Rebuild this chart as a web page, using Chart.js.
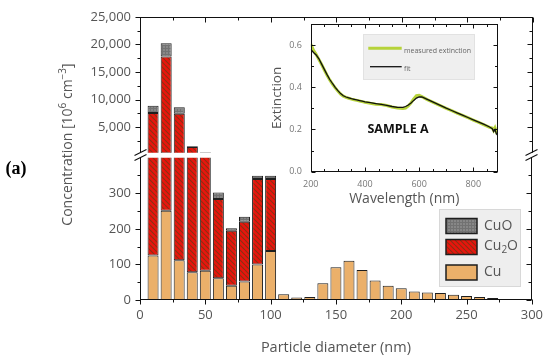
<!DOCTYPE html>
<html><head><meta charset="utf-8">
<script src="https://cdn.jsdelivr.net/npm/chart.js@4.4.1/dist/chart.umd.min.js"></script>
<style>
html,body{margin:0;padding:0;background:#fff;}
#wrap{position:relative;width:550px;height:363px;overflow:hidden;background:#fff;}
#wrap canvas{position:absolute;left:0;top:0;}
</style></head><body>
<div id="wrap">
<canvas id="upper" width="550" height="363"></canvas>
<canvas id="lower" width="550" height="363"></canvas>
<canvas id="inset" width="550" height="363"></canvas>
</div>
<script>
// ---- data ----
const diameters = [10,20,30,40,50,60,70,80,90,100,110,120,130,140,150,160,170,180,190,200,210,220,230,240,250,260,270,280,290];
const cuValues   = [125,251,112,78,82,61,40,52,100,138,16,7,8.5,47,92,110,84,55,40,33,24,21,20,15,11,8.5,5.6,3,1.5];
const cu2oValues = [7465,17549,7354,1342,360,223,155,168,240,202,0,0,0,0,0,0,0,0,0,0,0,0,0,0,0,0,0,0,0];
const cuoValues  = [1310,2400,1154,150,18,18,7,14,9,9,0,0,0,0,0,0,0,0,0,0,0,0,0,0,0,0,0,0,0];
const yTicksUpper = [5000,10000,15000,20000,25000];
const yTicksLower = [0,100,200,300];
const xTicks = [0,50,100,150,200,250,300];

const wavelength = [200,210,220,230,240,250,260,270,280,290,300,310,320,330,340,350,360,370,380,390,400,420,440,460,480,500,520,540,550,560,570,580,590,600,610,620,630,640,660,680,700,720,740,760,780,800,820,840,860,870,875,880,885,890];
const measuredExt = [0.605,0.575,0.555,0.532,0.508,0.482,0.457,0.435,0.415,0.398,0.382,0.368,0.358,0.352,0.348,0.344,0.341,0.338,0.335,0.332,0.329,0.324,0.320,0.318,0.314,0.307,0.302,0.300,0.302,0.312,0.326,0.345,0.360,0.362,0.356,0.349,0.342,0.336,0.324,0.312,0.300,0.289,0.278,0.267,0.256,0.245,0.234,0.222,0.210,0.207,0.195,0.208,0.190,0.200];
const fitExt = [0.580,0.565,0.553,0.535,0.510,0.485,0.460,0.437,0.418,0.400,0.384,0.370,0.360,0.354,0.350,0.346,0.343,0.340,0.337,0.334,0.331,0.327,0.323,0.319,0.314,0.309,0.305,0.305,0.309,0.316,0.326,0.338,0.349,0.355,0.354,0.349,0.343,0.337,0.325,0.313,0.301,0.290,0.279,0.268,0.257,0.246,0.235,0.224,0.212,0.204,0.190,0.200,0.180,0.172];
const insetXTicks = [200,400,600,800];
const insetYTicks = [0,0.2,0.4,0.6];

// ---- styling ----
const FONT = "'Open Sans', 'DejaVu Sans', sans-serif";
Chart.defaults.font.family = FONT;
const LABEL = '#555';
const CU_COLOR = '#ebb06a';

function hatchPattern(){
  const c=document.createElement('canvas'); c.width=5; c.height=5;
  const g=c.getContext('2d');
  g.fillStyle='#e8150d'; g.fillRect(0,0,5,5);
  g.strokeStyle='#8a3014'; g.lineWidth=1.1;
  g.beginPath();
  for (const o of [-5,0,5]) { g.moveTo(o,0); g.lineTo(o+5,5); }
  g.stroke();
  return g.createPattern(c,'repeat');
}
function gridPattern(){
  const c=document.createElement('canvas'); c.width=3; c.height=3;
  const g=c.getContext('2d');
  g.fillStyle='#878787'; g.fillRect(0,0,3,3);
  g.fillStyle='#727272'; g.fillRect(0,0,3,1); g.fillRect(0,0,1,3);
  return g.createPattern(c,'repeat');
}
const HATCH = hatchPattern();
const GRID = gridPattern();

function makeDatasets(){
  const mk=(label,vals,bg)=>({
    label, data: diameters.map((d,i)=>({x:d, y: vals[i]===0 ? null : vals[i]})),
    backgroundColor:bg, borderColor:'#1e1e1e', borderWidth:1, borderSkipped:false,
    barPercentage:0.84, categoryPercentage:1, clip:0
  });
  return [mk('Cu',cuValues,CU_COLOR), mk('Cu2O',cu2oValues,HATCH), mk('CuO',cuoValues,GRID)];
}

function line(ctx,x1,y1,x2,y2){ctx.beginPath();ctx.moveTo(x1,y1);ctx.lineTo(x2,y2);ctx.stroke();}

function drawTicksY(ctx, scale, vals, majorEvery, x, dir){
  for (const v of vals){
    const y = Math.round(scale.getPixelForValue(v))+0.5;
    const len = (Math.abs(v % majorEvery) < 1e-9) ? 5 : 3;
    line(ctx, x, y, x + dir*len, y);
  }
}
function drawTicksX(ctx, scale, vals, majorEvery, y, dir){
  for (const v of vals){
    const x = Math.round(scale.getPixelForValue(v))+0.5;
    const len = (Math.abs(v % majorEvery) < 1e-9) ? 5 : 3;
    line(ctx, x, y, x, y + dir*len);
  }
}
function range(a,b,s){const r=[];for(let v=a;v<=b+1e-9;v+=s)r.push(+v.toFixed(6));return r;}

// ---- upper chart ----
const upperAxes = {
  id:'upperAxes',
  afterDraw(chart){
    const {ctx, chartArea:a, scales} = chart;
    ctx.save(); ctx.strokeStyle='#111'; ctx.lineWidth=1;
    const L=Math.round(a.left)+0.5, R=Math.round(a.right)-0.5, T=Math.round(a.top)+0.5, B=a.bottom;
    line(ctx,L,T,L,B); line(ctx,R,T,R,B); line(ctx,L-0.5,T,R+0.5,T);
    const yv = range(2500,25000,2500);
    drawTicksY(ctx, scales.y, yv, 5000, L, -1);
    drawTicksY(ctx, scales.y, yv, 5000, R, -1);
    drawTicksX(ctx, scales.x, range(0,300,25), 50, T, 1);
    ctx.restore();
  }
};
new Chart(document.getElementById('upper'), {
  type:'bar',
  data:{datasets: makeDatasets()},
  options:{
    responsive:false, animation:false, devicePixelRatio:1,
    layout:{padding:{left:80,right:17.3,top:10,bottom:210.3}},
    plugins:{legend:{display:false},tooltip:{enabled:false}},
    scales:{
      x:{type:'linear',min:0,max:300,offset:false,stacked:true,display:false},
      y:{type:'linear',min:400,max:25000,stacked:true,
        grid:{display:false,drawTicks:false},border:{display:false},
        afterBuildTicks:s=>{s.ticks=yTicksUpper.map(v=>({value:v}));},
        ticks:{padding:9,color:LABEL,font:{size:13},autoSkip:false,callback:v=>v.toLocaleString('en-US')},
        afterFit:s=>{s.width=60;}
      }
    }
  },
  plugins:[upperAxes]
});

// ---- lower chart ----
const lowerDecor = {
  id:'lowerDecor',
  afterDraw(chart){
    const {ctx, chartArea:a, scales} = chart;
    ctx.save(); ctx.strokeStyle='#111'; ctx.lineWidth=1;
    const L=Math.round(a.left)+0.5, R=Math.round(a.right)-0.5, T=a.top, B=Math.round(a.bottom)-0.5;
    line(ctx,L,T,L,B); line(ctx,R,T,R,B); line(ctx,L-0.5,B,R+0.5,B);
    const yv = range(0,350,50);
    drawTicksY(ctx, scales.y, yv, 100, L, -1);
    drawTicksY(ctx, scales.y, yv, 100, R, -1);
    drawTicksX(ctx, scales.x, range(0,300,25), 50, B, 1);
    // axis break marks
    ctx.lineWidth=1.1;
    for (const x of [L,R]) {
      for (const y0 of [152.5,157.5]) line(ctx, x-6, y0+3, x+6, y0-3);
    }
    ctx.restore();

    // y axis title with superscripts
    ctx.save();
    ctx.translate(68,144.5); ctx.rotate(-Math.PI/2);
    ctx.fillStyle=LABEL; ctx.textBaseline='middle'; ctx.textAlign='left';
    const parts=[{t:'Concentration [10',s:14,dy:0},{t:'6',s:10,dy:-5},{t:' cm',s:14,dy:0},{t:'\u22123',s:10,dy:-5},{t:']',s:14,dy:0}];
    let total=0; for(const p of parts){ctx.font=p.s+'px '+FONT; p.w=ctx.measureText(p.t).width; total+=p.w;}
    let x=-total/2;
    for(const p of parts){ctx.font=p.s+'px '+FONT; ctx.fillText(p.t,x,p.dy); x+=p.w;}
    ctx.restore();

    // (a) label
    ctx.save();
    ctx.fillStyle='#000'; ctx.font="bold 18px 'Liberation Serif', 'DejaVu Serif', serif";
    ctx.textBaseline='middle'; ctx.textAlign='center';
    ctx.fillText('(a)',16,169);
    ctx.restore();

    // legend
    ctx.save();
    ctx.fillStyle='#eeeeee'; ctx.fillRect(439,209,82,78);
    ctx.strokeStyle='#d8d8d8'; ctx.lineWidth=1; ctx.strokeRect(439.5,209.5,81,77);
    const items=[{y:218.5,h:15,fill:GRID},{y:239.5,h:15,fill:HATCH},{y:265,h:15,fill:CU_COLOR}];
    for(const it of items){
      ctx.fillStyle=it.fill; ctx.fillRect(446,it.y,31,it.h);
      ctx.strokeStyle='#1e1e1e'; ctx.lineWidth=1.5; ctx.strokeRect(446,it.y,31,it.h);
    }
    ctx.fillStyle=LABEL; ctx.textBaseline='middle'; ctx.textAlign='left';
    ctx.font='14px '+FONT;
    ctx.fillText('CuO',484,226.5);
    let lx=484; ctx.fillText('Cu',lx,246); lx+=ctx.measureText('Cu').width;
    ctx.font='10px '+FONT; ctx.fillText('2',lx,250); lx+=ctx.measureText('2').width;
    ctx.font='14px '+FONT; ctx.fillText('O',lx,246);
    ctx.fillText('Cu',484,272.5);
    ctx.restore();
  }
};
new Chart(document.getElementById('lower'), {
  type:'bar',
  data:{datasets: makeDatasets()},
  options:{
    responsive:false, animation:false, devicePixelRatio:1,
    layout:{padding:{left:80,right:17.3,top:157.7,bottom:0}},
    plugins:{legend:{display:false},tooltip:{enabled:false}},
    scales:{
      x:{type:'linear',min:0,max:300,offset:false,stacked:true,
        grid:{display:false,drawTicks:false},border:{display:false},
        afterBuildTicks:s=>{s.ticks=xTicks.map(v=>({value:v}));},
        ticks:{padding:7,color:LABEL,font:{size:13},maxRotation:0,autoSkip:false},
        title:{display:true,text:'Particle diameter (nm)',color:LABEL,font:{size:14.5},padding:{top:0,bottom:6.3}},
        afterFit:s=>{s.height=63;}
      },
      y:{type:'linear',min:0,max:400,stacked:true,
        grid:{display:false,drawTicks:false},border:{display:false},
        afterBuildTicks:s=>{s.ticks=yTicksLower.map(v=>({value:v}));},
        ticks:{padding:9,color:LABEL,font:{size:13},autoSkip:false},
        afterFit:s=>{s.width=60;}
      }
    }
  },
  plugins:[lowerDecor]
});

// ---- inset chart ----
const insetDecor = {
  id:'insetDecor',
  beforeDatasetsDraw(chart){
    const {ctx, chartArea:a} = chart;
    ctx.save(); ctx.fillStyle='#fff'; ctx.fillRect(a.left,a.top,a.right-a.left,a.bottom-a.top); ctx.restore();
  },
  afterDraw(chart){
    const {ctx, chartArea:a, scales} = chart;
    ctx.save(); ctx.strokeStyle='#111'; ctx.lineWidth=1;
    const L=Math.round(a.left)+0.5, R=Math.round(a.right)-0.5, T=Math.round(a.top)+0.5, B=Math.round(a.bottom)-0.5;
    ctx.strokeRect(L,T,R-L,B-T);
    for (const v of range(200,850,50)){
      const x=Math.round(scales.x.getPixelForValue(v))+0.5;
      const len = (v%200===0)?4:2.5;
      line(ctx,x,B,x,B-len); line(ctx,x,T,x,T+len);
    }
    for (const v of range(0,0.7,0.1)){
      const y=Math.round(scales.y.getPixelForValue(v))+0.5;
      const len = (Math.round(v*10)%2===0)?4:2.5;
      line(ctx,L,y,L+len,y); line(ctx,R,y,R-len,y);
    }
    // legend
    ctx.fillStyle='#efefef'; ctx.fillRect(363.3,34,111.7,46);
    ctx.strokeStyle='#e2e2e2'; ctx.strokeRect(363.5,34.5,111,45);
    ctx.strokeStyle='#b6d33a'; ctx.lineWidth=3; line(ctx,368.3,48.3,401.7,48.3);
    ctx.strokeStyle='#111'; ctx.lineWidth=1.3; line(ctx,370,66.7,401.7,66.7);
    ctx.fillStyle='#666'; ctx.font='7px '+FONT; ctx.textBaseline='middle'; ctx.textAlign='left';
    ctx.fillText('measured extinction',404,50.5);
    ctx.fillText('fit',404,68.5);
    // sample label
    ctx.fillStyle='#111'; ctx.font="bold 12.5px "+FONT; ctx.textAlign='center';
    ctx.fillText('SAMPLE A',398,129);
    ctx.restore();
  }
};
new Chart(document.getElementById('inset'), {
  type:'line',
  data:{datasets:[
    {label:'fit',data:wavelength.map((w,i)=>({x:w,y:fitExt[i]})),borderColor:'#111',borderWidth:1.3,pointRadius:0,tension:0,order:1},
    {label:'measured extinction',data:wavelength.map((w,i)=>({x:w,y:measuredExt[i]})),borderColor:'#b6d33a',borderWidth:3,pointRadius:0,tension:0,order:2}
  ]},
  options:{
    responsive:false, animation:false, devicePixelRatio:1,
    layout:{padding:{left:268.8,right:52.3,top:24,bottom:153.3}},
    plugins:{legend:{display:false},tooltip:{enabled:false}},
    scales:{
      x:{type:'linear',min:200,max:890,
        grid:{display:false,drawTicks:false},border:{display:false},
        afterBuildTicks:s=>{s.ticks=insetXTicks.map(v=>({value:v}));},
        ticks:{padding:7,color:'#777',font:{size:9},maxRotation:0,autoSkip:false},
        title:{display:true,text:'Wavelength (nm)',color:LABEL,font:{size:14},padding:{top:0,bottom:2.3}},
        afterFit:s=>{s.height=38;}
      },
      y:{type:'linear',min:0,max:0.7,
        grid:{display:false,drawTicks:false},border:{display:false},
        afterBuildTicks:s=>{s.ticks=insetYTicks.map(v=>({value:v}));},
        ticks:{padding:9,color:'#777',font:{size:9},autoSkip:false,callback:v=>v.toFixed(1)},
        title:{display:true,text:'Extinction',color:LABEL,font:{size:13.5},padding:{top:0,bottom:0}},
        afterFit:s=>{s.width=42;}
      }
    }
  },
  plugins:[insetDecor]
});
</script>
</body></html>
